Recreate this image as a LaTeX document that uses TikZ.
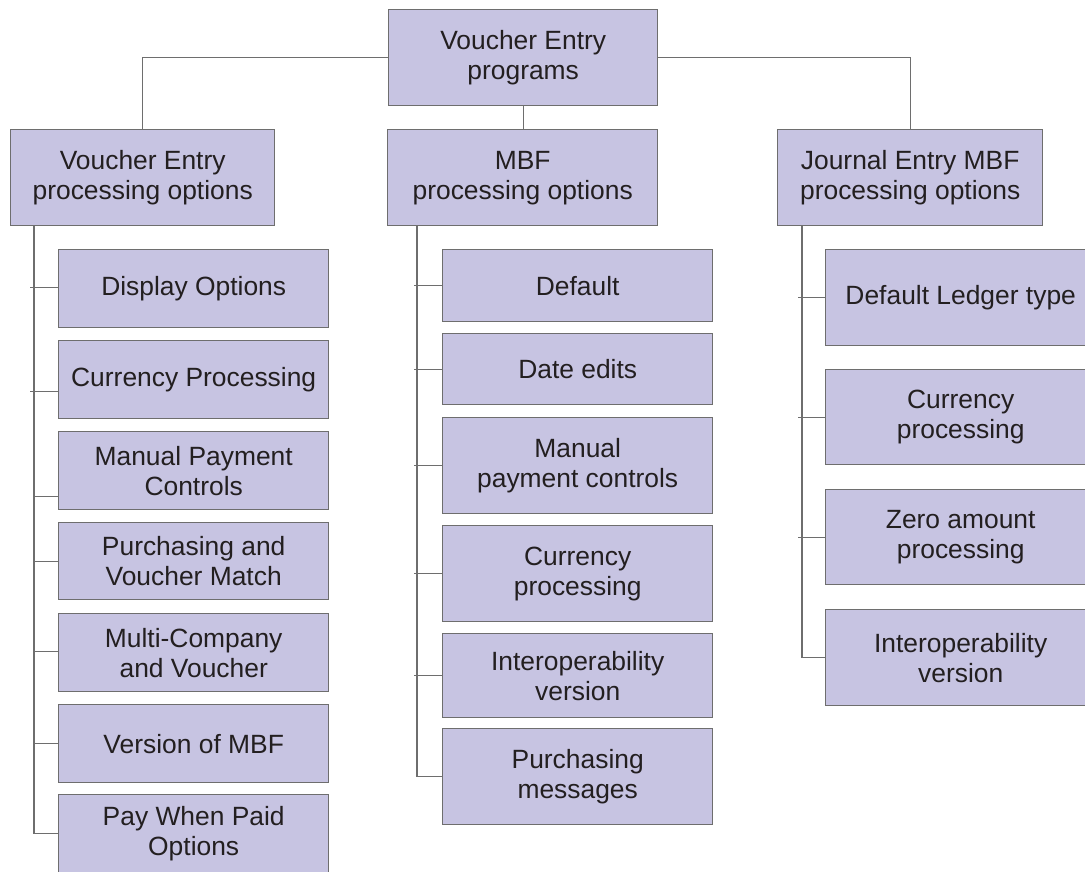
\documentclass[tikz,border=0pt]{standalone}
\usepackage{fontspec}
\setmainfont{Liberation Sans}
\definecolor{boxfill}{RGB}{199,196,226}
\definecolor{edge}{RGB}{110,110,110}
\definecolor{ink}{RGB}{35,31,32}
\tikzset{
  box/.style={draw=edge, line width=1.4pt, fill=boxfill, text=ink, align=center,
    inner sep=0pt, anchor=north west, font=\fontsize{26.4}{30}\selectfont},
  link/.style={draw=edge, line width=1.3pt}
}
\newcommand{\mybox}[6]{\node[box, minimum width={(#4-#2)*1pt}, minimum height={(#5-#3)*1pt}] (#1) at (#2,#3) {#6};}
\begin{document}
\begin{tikzpicture}[x=1pt,y=-1pt]
\clip (0,0) rectangle (1085,871);
\fill[white] (0,0) rectangle (1085,871);
% top and headers
\mybox{top}{388}{9}{657}{105}{Voucher Entry\\programs}
\mybox{lh}{10}{129}{274}{225}{Voucher Entry\\processing options}
\mybox{mh}{387}{129}{657}{225}{MBF\\processing options}
\mybox{rh}{777}{129}{1042}{225}{Journal Entry MBF\\processing options}
% left column
\mybox{l1}{58}{249}{328}{327}{Display Options}
\mybox{l2}{58}{340}{328}{418}{Currency Processing}
\mybox{l3}{58}{431}{328}{509}{Manual Payment\\Controls}
\mybox{l4}{58}{522}{328}{599}{Purchasing and\\Voucher Match}
\mybox{l5}{58}{613}{328}{691}{Multi-Company\\and Voucher}
\mybox{l6}{58}{704}{328}{782}{Version of MBF}
\mybox{l7}{58}{794}{328}{872}{Pay When Paid\\Options}
% middle column
\mybox{m1}{442}{249}{712}{321}{Default}
\mybox{m2}{442}{333}{712}{404}{Date edits}
\mybox{m3}{442}{417}{712}{513}{Manual\\payment controls}
\mybox{m4}{442}{525}{712}{621}{Currency\\processing}
\mybox{m5}{442}{633}{712}{717}{Interoperability\\version}
\mybox{m6}{442}{728}{712}{824}{Purchasing\\messages}
% right column
\mybox{r1}{825}{249}{1095}{345}{Default Ledger type}
\mybox{r2}{825}{369}{1095}{464}{Currency\\processing}
\mybox{r3}{825}{489}{1095}{584}{Zero amount\\processing}
\mybox{r4}{825}{609}{1095}{705}{Interoperability\\version}
% top connectors
\draw[link] (top.west) -| (lh.north);
\draw[link] (top.east) -| (rh.north);
\draw[link] (top.south) -- (top.south |- mh.north);
% trunks
\coordinate (lt) at ([xshift=24pt]lh.south west);
\coordinate (mt) at ([xshift=30pt]mh.south west);
\coordinate (rt) at ([xshift=25pt]rh.south west);
\draw[link] (lt) |- (l7.west);
\draw[link] (mt) |- (m6.west);
\draw[link] (rt) |- (r4.west);
% ticks
\foreach \n/\dy/\ext/\tr in {l1/1/4/lt, l2/-12/4/lt, l3/-26/0/lt, l4/0/0/lt, l5/1/0/lt, l6/0/0/lt,
  m1/0/3/mt, m2/0/3/mt, m3/0/3/mt, m4/0/3/mt, m5/0/3/mt,
  r1/0/4/rt, r2/0/4/rt, r3/0/4/rt}{
  \coordinate (tk) at ([yshift=\dy pt]\n.west);
  \draw[link] (tk) -- (tk -| \tr) -- ++(-\ext,0);
}
\end{tikzpicture}
\end{document}
